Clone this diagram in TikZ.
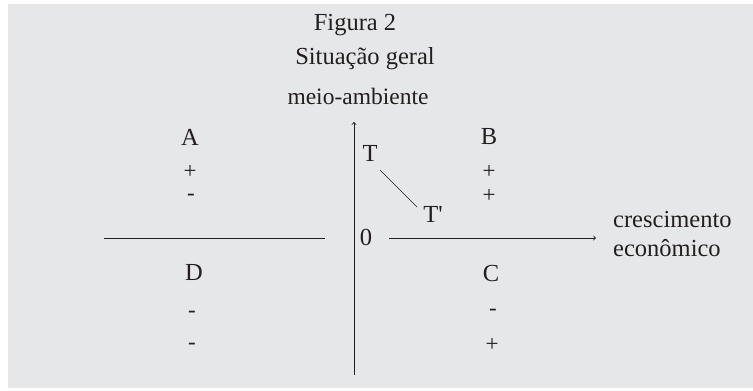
\documentclass[tikz,border=0pt]{standalone}
\usepackage{fontspec}
\setmainfont{Liberation Serif}
\newfontfamily\plainf{Liberation Serif}[Ligatures=TeXOff]
\definecolor{bg}{HTML}{E6E7E8}
\definecolor{ink}{HTML}{231F20}
\begin{document}
\begin{tikzpicture}[x=1pt,y=-1pt,
  lbl/.style={inner sep=0pt,text=ink,font=\fontsize{24.5}{29}\selectfont},
  sgn/.style={inner sep=0pt,text=ink,font=\fontsize{23}{27}\selectfont},
  ln/.style={draw=ink,line width=0.9pt}]
\useasboundingbox (0,0) rectangle (753,391);
\fill[bg] (8,4) rectangle (753,388);
\node[lbl] (title) at (355,25) {Figura 2};
\node[lbl] (sub) at (365,59) {Situação geral};
\node[lbl,font=\fontsize{23.5}{28}\selectfont] (yl) at (358,96) {meio-ambiente};
\coordinate (ytop) at (354,122);
\coordinate (ybot) at (354,375);
\draw[ln,->] (ybot) -- (ytop);
\coordinate (hl1) at (104,238);
\coordinate (hl2) at (325,238);
\draw[ln] (hl1) -- (hl2);
\coordinate (hr1) at (389,238);
\coordinate (hr2) at (596,238);
\draw[ln,->] (hr1) -- (hr2);
\node[lbl] (zero) at (366,237) {0};
\node[lbl] (T) at (370,153) {T};
\node[lbl] (Tp) at (433,214) {\plainf T'};
\draw[ln,line width=0.7pt] (380,170) -- (417,207);
\node[lbl,align=left,anchor=west] (xl) at (613,234) {crescimento\\econômico};
\node[lbl] (A) at (190,137) {A};
\node[sgn] (A1) at (190,172) {+};
\node[sgn] (A2) at (191,197) {-};
\node[lbl] (B) at (489,137) {B};
\node[sgn] (B1) at (489,172) {+};
\node[sgn] (B2) at (489,196) {+};
\node[lbl] (D) at (194,272) {D};
\node[sgn] (D1) at (192,314) {-};
\node[sgn] (D2) at (192,346) {-};
\node[lbl] (C) at (491,274) {C};
\node[sgn] (C1) at (493,312) {-};
\node[sgn] (C2) at (492,345) {+};
\end{tikzpicture}
\end{document}
